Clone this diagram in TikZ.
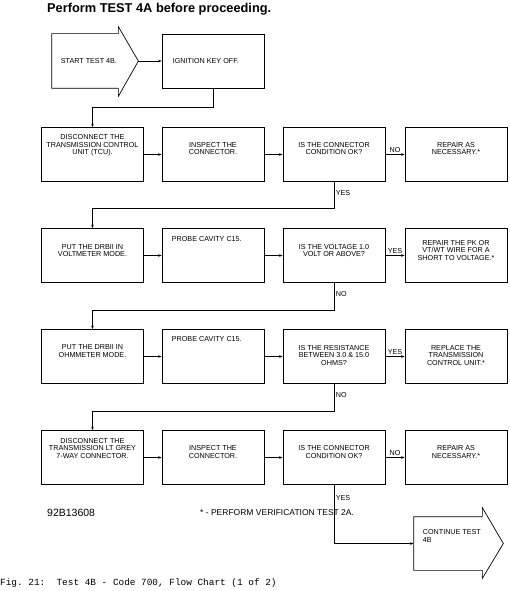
\documentclass[tikz,border=0pt]{standalone}
\usepackage{fontspec}
\setmainfont{Liberation Sans}
\setsansfont{Liberation Sans}
\setmonofont{Liberation Mono}
\usetikzlibrary{arrows.meta, positioning, calc}

\begin{document}
\begin{tikzpicture}[
    x=1pt, y=-1pt,
    box/.style={rectangle, draw=black, line width=0.7pt, minimum width=102pt, minimum height=54pt, inner sep=0pt},
    txt/.style={font=\fontsize{7.2}{7.7}\selectfont\sffamily, align=center, inner sep=0pt},
    txtl/.style={font=\fontsize{7.2}{7.7}\selectfont\sffamily, align=left, inner sep=0pt},
    lbl/.style={font=\fontsize{7.2}{7.7}\selectfont\sffamily, inner sep=1.5pt},
    conn/.style={-{Stealth[length=3.5pt, width=2.6pt]}, line width=0.6pt},
    outline/.style={draw=black, line width=0.7pt, line join=miter}
]
\useasboundingbox (0,0) rectangle (509,591);

% === TITLE ===
\node[font=\fontsize{12.8}{14}\selectfont\bfseries\sffamily, anchor=base west, inner sep=0pt] (title) at (47,13) {Perform TEST 4A before proceeding.};

% === START / IGNITION ===
\node[box, draw=none, minimum width=66pt] (start) at (85,61) {};
\coordinate (stip) at ([xshift=20pt]start.east);
\draw[outline] (start.north west) -- (start.north east) -- ++(0,-7) -- (stip) -- ([yshift=-8pt]start.south east) -- (start.south east) -- (start.south west) -- cycle;
\node[txtl, anchor=west] (starttxt) at ([xshift=9pt]start.west) {START TEST 4B.};

\node[box] (ign) at (213,61) {};
\node[txtl, anchor=west] (igntxt) at ([xshift=11pt]ign.west) {IGNITION KEY OFF.};

% === ROW 1: TCU CONNECTOR ===
\node[box] (dtcu) at (92.5,154.5) {};
\node[txt] (dtcutxt) at ([yshift=9pt]dtcu.center) {DISCONNECT THE\\TRANSMISSION CONTROL\\UNIT (TCU).};
\node[box] (insp1) at (213,154.5) {};
\node[txt] (insp1txt) at ([yshift=6pt]insp1.center) {INSPECT THE\\CONNECTOR.};
\node[box] (cond1) at (334,154.5) {};
\node[txt] (cond1txt) at ([yshift=6pt]cond1.center) {IS THE CONNECTOR\\CONDITION OK?};
\node[box] (rep1) at (456,154.5) {};
\node[txt] (rep1txt) at ([yshift=6pt]rep1.center) {REPAIR AS\\NECESSARY.*};

% === ROW 2: VOLTMETER ===
\node[box] (drbv) at (92.5,255.5) {};
\node[txt] (drbvtxt) at ([yshift=5pt]drbv.center) {PUT THE DRBII IN\\VOLTMETER MODE.};
\node[box] (probev) at (213,255.5) {};
\node[txtl, anchor=north west] (probevtxt) at ([xshift=10pt, yshift=-8.5pt]probev.north west) {PROBE CAVITY C15.};
\node[box] (volt) at (334,255.5) {};
\node[txt] (volttxt) at ([yshift=5pt]volt.center) {IS THE VOLTAGE 1.0\\VOLT OR ABOVE?};
\node[box] (repshort) at (456,255.5) {};
\node[txt] (repshorttxt) at ([yshift=5pt]repshort.center) {REPAIR THE PK OR\\VT/WT WIRE FOR A\\SHORT TO VOLTAGE.*};

% === ROW 3: OHMMETER ===
\node[box] (drbo) at (92.5,356.5) {};
\node[txt] (drbotxt) at ([yshift=5.5pt]drbo.center) {PUT THE DRBII IN\\OHMMETER MODE.};
\node[box] (probeo) at (213,356.5) {};
\node[txtl, anchor=north west] (probeotxt) at ([xshift=10pt, yshift=-7.5pt]probeo.north west) {PROBE CAVITY C15.};
\node[box] (resist) at (334,356.5) {};
\node[txt] (resisttxt) at ([yshift=1pt]resist.center) {IS THE RESISTANCE\\BETWEEN 3.0 \& 15.0\\OHMS?};
\node[box] (reptcu) at (456,356.5) {};
\node[txt] (reptcutxt) at ([yshift=1pt]reptcu.center) {REPLACE THE\\TRANSMISSION\\CONTROL UNIT.*};

% === ROW 4: LT GREY CONNECTOR ===
\node[box] (dgrey) at (92.5,457.5) {};
\node[txt] (dgreytxt) at ([yshift=9pt]dgrey.center) {DISCONNECT THE\\TRANSMISSION LT GREY\\7-WAY CONNECTOR.};
\node[box] (insp2) at (213,457.5) {};
\node[txt] (insp2txt) at ([yshift=5.5pt]insp2.center) {INSPECT THE\\CONNECTOR.};
\node[box] (cond2) at (334,457.5) {};
\node[txt] (cond2txt) at ([yshift=5.5pt]cond2.center) {IS THE CONNECTOR\\CONDITION OK?};
\node[box] (rep2) at (456,457.5) {};
\node[txt] (rep2txt) at ([yshift=5.5pt]rep2.center) {REPAIR AS\\NECESSARY.*};

% === CONTINUE ===
\node[box, draw=none, minimum width=68pt, minimum height=53pt] (cont) at (448,543.5) {};
\coordinate (ctip) at ([xshift=21pt]cont.east);
\draw[outline] (cont.north west) -- (cont.north east) -- ++(0,-9) -- (ctip) -- ([yshift=-8pt]cont.south east) -- (cont.south east) -- (cont.south west) -- cycle;
\node[txtl, anchor=north west] (conttxt) at ([xshift=9pt, yshift=-12.5pt]cont.north west) {CONTINUE TEST\\4B};

% === CONNECTIONS ===
\draw[conn] (stip) -- (ign.west);
\draw[conn] (ign.south) -- ++(0,19) -| (dtcu.north);

\draw[conn] (dtcu.east) -- (insp1.west);
\draw[conn] (insp1.east) -- (cond1.west);
\draw[conn] (cond1.east) -- node[lbl, above] {NO} (rep1.west);
\draw[conn] (cond1.south) -- node[lbl, anchor=west, pos=0.42] {YES} ++(0,26) -| (drbv.north);

\draw[conn] (drbv.east) -- (probev.west);
\draw[conn] (probev.east) -- (volt.west);
\draw[conn] (volt.east) -- node[lbl, above] {YES} (repshort.west);
\draw[conn] (volt.south) -- node[lbl, anchor=west, pos=0.42] {NO} ++(0,27) -| (drbo.north);

\draw[conn] (drbo.east) -- (probeo.west);
\draw[conn] (probeo.east) -- (resist.west);
\draw[conn] (resist.east) -- node[lbl, above] {YES} (reptcu.west);
\draw[conn] (resist.south) -- node[lbl, anchor=west, pos=0.42] {NO} ++(0,27) -| (dgrey.north);

\draw[conn] (dgrey.east) -- (insp2.west);
\draw[conn] (insp2.east) -- (cond2.west);
\draw[conn] (cond2.east) -- node[lbl, above] {NO} (rep2.west);
\draw[conn] (cond2.south) -- node[lbl, anchor=west, pos=0.22] {YES} (cond2.south |- cont.west) -- (cont.west);

% === FOOTER ===
\node[font=\fontsize{10.5}{12}\selectfont\sffamily, anchor=west, inner sep=0pt] (figid) at (47,513) {92B13608};
\node[font=\fontsize{8.5}{10}\selectfont\sffamily, anchor=west, inner sep=0pt] (note) at (200,513) {* - PERFORM VERIFICATION TEST 2A.};
\node[font=\fontsize{9.4}{11}\selectfont\ttfamily, anchor=west, inner sep=0pt] (caption) at (0,583) {Fig.~21:\ \ Test 4B - Code 700, Flow Chart (1 of 2)};

\end{tikzpicture}
\end{document}
